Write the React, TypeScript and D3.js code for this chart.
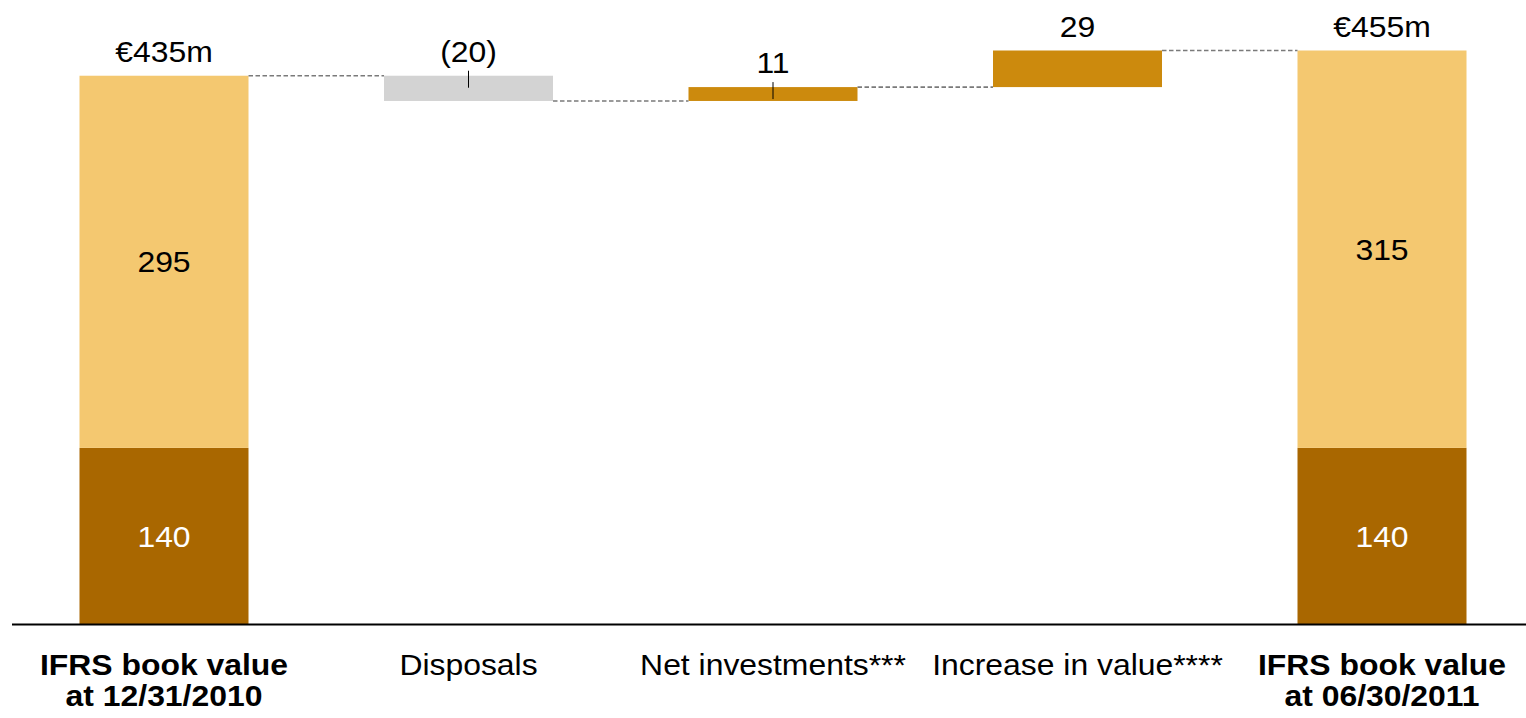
import React from "react";
import * as d3 from "d3";

const categories = [
  ["IFRS book value", "at 12/31/2010"],
  ["Disposals"],
  ["Net investments***"],
  ["Increase in value****"],
  ["IFRS book value", "at 06/30/2011"],
];
const boldCategory = [true, false, false, false, true];
const startTotal = 435;
const lowerSegment = [140, 140];
const upperSegment = [295, 315];
const deltas = [-20, 11, 29];
const deltaLabels = ["(20)", "11", "29"];
const totalLabels = ["€435m", "€455m"];

const W = 1526;
const H = 718;
const FONT = "'Liberation Sans', Arial, Helvetica, sans-serif";
const C_LIGHT = "#F4C870";
const C_DARK = "#A96700";
const C_GREY = "#D3D3D3";
const C_GOLD = "#CC8A0D";
const C_DASH = "#7A7A7A";
const SX = 1.1; // horizontal stretch of the reference's text

function T({ x, y, size = 29, fill = "#000", bold = false, children, dy }: any) {
  return (
    <text
      transform={`translate(${x},${y}) scale(${SX},1)`}
      textAnchor="middle"
      fontSize={size}
      fontWeight={bold ? "bold" : "normal"}
      fill={fill}
      dy={dy}
    >
      {children}
    </text>
  );
}

export default function App() {
  const x = d3.scalePoint<number>().domain([0, 1, 2, 3, 4]).range([164, 1382]);
  const y = d3.scaleLinear().domain([0, 455]).range([624.5, 50.5]);
  const bw = 169;

  const levels: number[] = [startTotal];
  deltas.forEach((d) => levels.push(levels[levels.length - 1] + d));

  const bars: any[] = [];
  bars.push({ i: 0, y0: 0, y1: lowerSegment[0], color: C_DARK });
  bars.push({ i: 0, y0: lowerSegment[0], y1: lowerSegment[0] + upperSegment[0], color: C_LIGHT });
  deltas.forEach((d, k) => {
    const a = levels[k];
    const b = levels[k + 1];
    bars.push({ i: k + 1, y0: Math.min(a, b), y1: Math.max(a, b), color: d < 0 ? C_GREY : C_GOLD });
  });
  bars.push({ i: 4, y0: 0, y1: lowerSegment[1], color: C_DARK });
  bars.push({ i: 4, y0: lowerSegment[1], y1: lowerSegment[1] + upperSegment[1], color: C_LIGHT });

  const connectors = levels.map((lv, k) => ({
    x1: (x(k) as number) + bw / 2,
    x2: (x(k + 1) as number) - bw / 2,
    y: y(lv),
  }));

  return (
    <svg
      width={W}
      height={H}
      style={{ position: "absolute", left: 0, top: 0, background: "#fff" }}
      fontFamily={FONT}
    >
      {bars.map((b, k) => (
        <rect
          key={k}
          x={(x(b.i) as number) - bw / 2}
          y={y(b.y1)}
          width={bw}
          height={y(b.y0) - y(b.y1)}
          fill={b.color}
        />
      ))}
      {connectors.map((c, k) => (
        <line
          key={"c" + k}
          x1={c.x1}
          x2={c.x2}
          y1={c.y}
          y2={c.y}
          stroke={C_DASH}
          strokeWidth={1.6}
          strokeDasharray="4.5,2.5"
        />
      ))}
      <line x1={12} x2={W} y1={624.5} y2={624.5} stroke="#000" strokeWidth={2} />

      {[0, 4].map((i, k) => (
        <g key={"seg" + i}>
          <T x={x(i)} y={(y(0) + y(lowerSegment[k])) / 2} dy="0.36em" fill="#fff">
            {lowerSegment[k]}
          </T>
          <T x={x(i)} y={(y(lowerSegment[k]) + y(lowerSegment[k] + upperSegment[k])) / 2} dy="0.36em">
            {upperSegment[k]}
          </T>
          <T x={x(i)} y={y(lowerSegment[k] + upperSegment[k]) - 14}>
            {totalLabels[k]}
          </T>
        </g>
      ))}

      {deltas.map((d, k) => {
        const top = y(Math.max(levels[k], levels[k + 1]));
        const cx = x(k + 1) as number;
        const small = Math.abs(y(levels[k]) - y(levels[k + 1])) < 30;
        return (
          <g key={"d" + k}>
            <T x={cx} y={top - 14}>
              {deltaLabels[k]}
            </T>
            {small && <line x1={cx} x2={cx} y1={top - 5} y2={top + 12} stroke="#000" strokeWidth={1} />}
          </g>
        );
      })}

      {categories.map((lines, i) =>
        lines.map((ln, j) => (
          <T key={"cat" + i + "-" + j} x={x(i)} y={675 + j * 31} bold={boldCategory[i]}>
            {ln}
          </T>
        ))
      )}
    </svg>
  );
}
